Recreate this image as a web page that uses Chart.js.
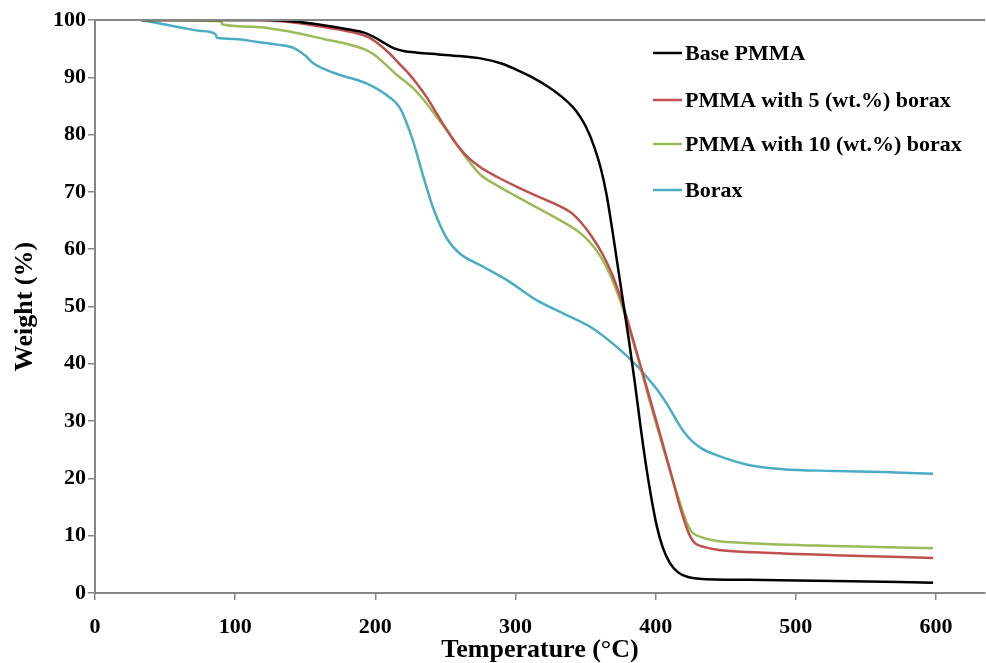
<!DOCTYPE html>
<html>
<head>
<meta charset="utf-8">
<title>TGA curves</title>
<script src="https://cdn.jsdelivr.net/npm/chart.js@4.4.1/dist/chart.umd.min.js"></script>
<style>
  html, body { margin: 0; padding: 0; background: #ffffff; }
  #wrap { width: 986px; height: 663px; position: relative; }
</style>
</head>
<body>
<div id="wrap"><canvas id="tga"></canvas></div>
<script>
// Thermogravimetric curves: [temperature (°C), weight (%)]
const basePMMA = [
  [33,100],[120,100],[140,99.8],[163,99.1],[180,98.4],[192,97.8],[200,96.9],[207,95.9],
  [213,95.1],[220,94.6],[230,94.3],[245,94.0],[260,93.7],[275,93.3],[290,92.4],[300,91.4],
  [312,90.0],[323,88.4],[334,86.4],[343,84.2],[350,81.5],[356,78.0],[361,74.0],[365,69.5],
  [369,63.5],[373,57.0],[377,50.5],[381,44.0],[385,37.0],[389,29.5],[393,22.5],[397,16.5],
  [401,11.5],[405,8.0],[410,5.3],[416,3.6],[423,2.8],[431,2.5],[467,2.3],[527,2.1],[598,1.8]
];
const pmma5Borax = [
  [33,100],[115,100],[140,99.6],[165,98.7],[185,97.8],[195,97.0],[203,95.7],[210,94.2],
  [217,92.4],[224,90.6],[230,88.8],[237,86.4],[244,83.6],[251,80.8],[258,78.3],[265,76.3],
  [275,74.3],[287,72.6],[300,71.0],[315,69.3],[330,67.7],[340,66.3],[348,64.3],[355,62.0],
  [362,59.2],[369,55.6],[376,50.8],[383,45.0],[390,39.0],[397,33.0],[404,27.0],[411,20.8],
  [418,14.5],[424,10.2],[428,8.7],[435,8.0],[445,7.5],[470,7.1],[527,6.6],[598,6.1]
];
const pmma10Borax = [
  [33,100],[90,99.8],[91,99.2],[115,98.8],[140,97.9],[163,96.7],[180,95.8],[192,94.9],
  [200,93.8],[207,92.3],[215,90.5],[227,88.1],[236,85.6],[244,83.0],[251,80.8],[258,78.3],
  [265,75.9],[275,73.0],[287,71.1],[300,69.3],[315,67.3],[330,65.3],[344,63.2],[352,61.5],
  [360,59.0],[367,55.8],[374,51.5],[381,46.2],[388,40.5],[394,35.0],[401,29.0],[408,23.2],
  [416,16.8],[422,12.4],[426,10.6],[432,9.8],[443,9.1],[467,8.7],[527,8.2],[598,7.8]
];
const borax = [
  [33,100],[50,99.2],[61,98.7],[75,98.1],[86,97.5],[87,96.9],[100,96.7],[115,96.2],
  [130,95.7],[142,95.1],[150,93.8],[156,92.4],[165,91.3],[175,90.4],[194,88.9],[208,86.9],
  [217.6,84.6],[227,78.8],[234,72.9],[241.4,67.1],[251,61.9],[260,59.3],[275,57.2],[294,54.6],
  [315,51.1],[334,48.8],[353,46.5],[372,43.0],[386,39.8],[394,37.6],[401,35.5],[408,33.0],
  [414,30.5],[420,28.2],[426,26.5],[433,25.2],[443,24.1],[467,22.3],[491,21.6],[527,21.3],
  [562,21.1],[598,20.8]
];

const seriesLabels = ['Base PMMA', 'PMMA with 5 (wt.%) borax', 'PMMA with 10 (wt.%) borax', 'Borax'];
const seriesColors = ['#000000', '#c0504d', '#9bbb59', '#4bacc6'];
const xTickValues = [0, 100, 200, 300, 400, 500, 600];
const yTickValues = [0, 10, 20, 30, 40, 50, 60, 70, 80, 90, 100];

const AXIS_GREY = '#868686';
const SERIF = '"Liberation Serif", "Times New Roman", serif';

const toPoints = arr => arr.map(p => ({ x: p[0], y: p[1] }));

// Frame line along the top of the plot area
const topFrame = {
  id: 'topFrame',
  afterDraw(chart) {
    const { ctx, chartArea } = chart;
    ctx.save();
    ctx.strokeStyle = AXIS_GREY;
    ctx.lineWidth = 2;
    ctx.beginPath();
    ctx.moveTo(chartArea.left, chartArea.top);
    ctx.lineTo(chartArea.right, chartArea.top);
    ctx.stroke();
    ctx.restore();
  }
};

// Legend drawn inside the plot area, upper right
const insideLegend = {
  id: 'insideLegend',
  afterDraw(chart, args, opts) {
    const { ctx } = chart;
    ctx.save();
    ctx.font = 'bold 22px ' + SERIF;
    ctx.textBaseline = 'middle';
    ctx.textAlign = 'left';
    chart.data.datasets.forEach((ds, i) => {
      const y = opts.top + opts.rows[i];
      ctx.strokeStyle = ds.borderColor;
      ctx.lineWidth = 2.5;
      ctx.beginPath();
      ctx.moveTo(opts.left, y);
      ctx.lineTo(opts.left + opts.lineLen, y);
      ctx.stroke();
      ctx.fillStyle = '#000000';
      ctx.fillText(ds.label, opts.left + opts.lineLen + 3, y + 1);
    });
    ctx.restore();
  }
};

const datasets = [basePMMA, pmma5Borax, pmma10Borax, borax].map((d, i) => ({
  label: seriesLabels[i],
  data: toPoints(d),
  borderColor: seriesColors[i],
  backgroundColor: seriesColors[i],
  borderWidth: 2.5,
  pointRadius: 0,
  cubicInterpolationMode: 'monotone',
  fill: false
}));

new Chart(document.getElementById('tga'), {
  type: 'line',
  data: { datasets },
  plugins: [topFrame, insideLegend],
  options: {
    responsive: true,
    maintainAspectRatio: false,
    animation: false,
    layout: { padding: { top: 20, right: 1, left: 0, bottom: 0 } },
    plugins: {
      legend: { display: false },
      tooltip: { enabled: false },
      insideLegend: { left: 653, top: 53, rows: [0, 47, 91, 137], lineLen: 29 }
    },
    scales: {
      x: {
        type: 'linear',
        min: 0,
        max: 635,
        afterBuildTicks: s => { s.ticks = xTickValues.map(v => ({ value: v })); },
        afterFit: s => { s.height = 70; },
        grid: { drawOnChartArea: false, drawTicks: true, tickLength: 7, color: AXIS_GREY, lineWidth: 1.5 },
        border: { display: true, color: AXIS_GREY, width: 2 },
        ticks: { color: '#000000', padding: 14, maxRotation: 0, font: { family: SERIF, size: 22, weight: 'bold' } },
        title: {
          display: true,
          text: 'Temperature (°C)',
          color: '#000000',
          padding: { top: 0, bottom: 0 },
          font: { family: SERIF, size: 26, weight: 'bold', lineHeight: 1.0 }
        }
      },
      y: {
        type: 'linear',
        min: 0,
        max: 100,
        afterBuildTicks: s => { s.ticks = yTickValues.map(v => ({ value: v })); },
        afterFit: s => { s.width = 95; },
        grid: { drawOnChartArea: false, drawTicks: true, tickLength: 7, color: AXIS_GREY, lineWidth: 1.5 },
        border: { display: true, color: AXIS_GREY, width: 2 },
        ticks: { color: '#000000', padding: 2, font: { family: SERIF, size: 22, weight: 'bold' } },
        title: {
          display: true,
          text: 'Weight (%)',
          color: '#000000',
          padding: { top: 12, bottom: 0 },
          font: { family: SERIF, size: 26, weight: 'bold', lineHeight: 1.0 }
        }
      }
    }
  }
});
</script>
</body>
</html>
